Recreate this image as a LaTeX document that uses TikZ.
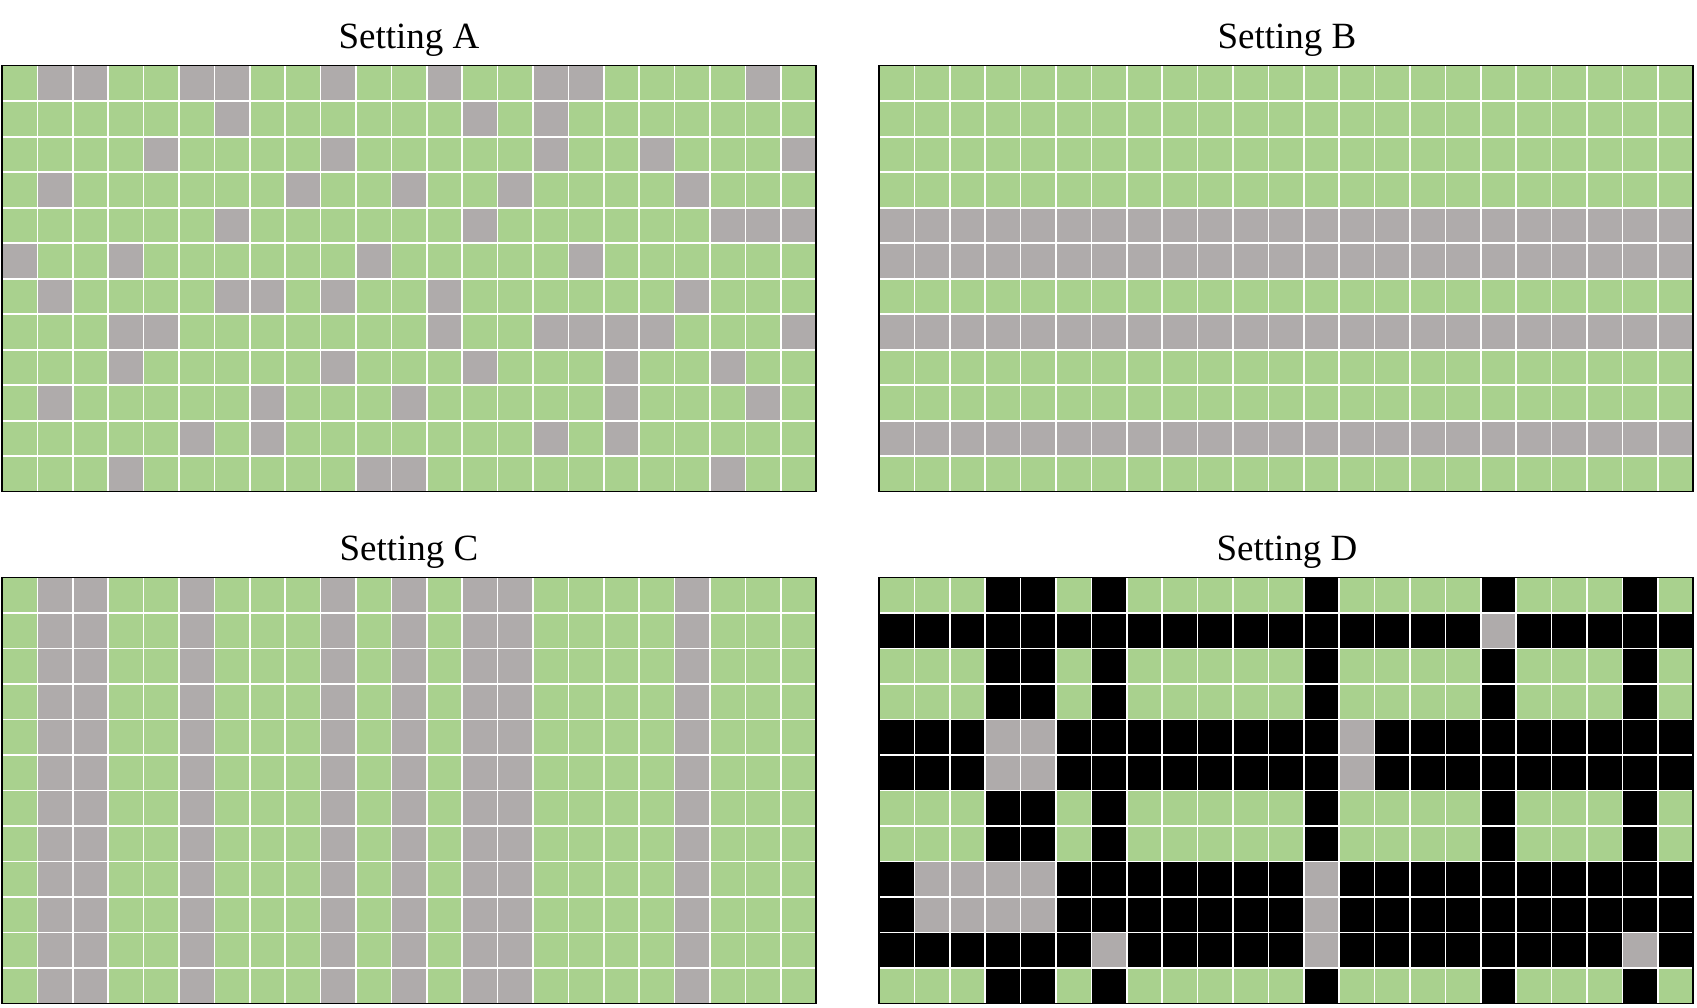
\documentclass[tikz,border=0pt]{standalone}
\usepackage{fontspec}
\setmainfont{Liberation Serif}
\definecolor{cgreen}{HTML}{A9D18E}
\definecolor{cgray}{HTML}{AFABAB}
\tikzset{
  cellunits/.style={x=17.7pt,y=-17.75pt},
  gridline/.style={white,line width=0.8pt},
  gridframe/.style={black,line width=0.75pt},
  titletext/.style={anchor=base,inner sep=0pt,font=\fontsize{18.5pt}{22pt}\selectfont}
}
\newcommand\gridlinesframe{%
  \foreach \i in {1,...,22} \draw[gridline] (\i,0) -- (\i,12);
  \foreach \j in {1,...,11} \draw[gridline] (0,\j) -- (23,\j);
  \draw[gridframe] (0,0) rectangle (23,12);
}
\begin{document}
\begin{tikzpicture}[x=0.5pt,y=-0.5pt]
\useasboundingbox (0,0) rectangle (1697,1007);

\node[titletext] (tA) at (409,48) {Setting A};
\node[titletext] (tB) at (1287,48) {Setting B};
\node[titletext] (tC) at (409,560) {Setting C};
\node[titletext] (tD) at (1287,560) {Setting D};

% Setting A
\begin{scope}[shift={(1pt,-32.85pt)},cellunits]
  \fill[cgreen] (0,0) rectangle (23,12);
  \foreach \r/\cols in {0/{1,2,5,6,9,12,15,16,21},1/{6,13,15},2/{4,9,15,18,22},
    3/{1,8,11,14,19},4/{6,13,20,21,22},5/{0,3,10,16},6/{1,6,7,9,12,19},
    7/{3,4,12,15,16,17,18,22},8/{3,9,13,17,20},9/{1,7,11,17,21},
    10/{5,7,15,17},11/{3,10,11,20}}
    \foreach \c in \cols \fill[cgray] (\c,\r) rectangle ++(1,1);
  \gridlinesframe
\end{scope}

% Setting B
\begin{scope}[shift={(439.5pt,-32.85pt)},cellunits]
  \fill[cgreen] (0,0) rectangle (23,12);
  \foreach \r in {4,5,7,10} \fill[cgray] (0,\r) rectangle (23,\r+1);
  \gridlinesframe
\end{scope}

% Setting C
\begin{scope}[shift={(1pt,-288.65pt)},cellunits]
  \fill[cgreen] (0,0) rectangle (23,12);
  \foreach \c in {1,2,5,9,11,13,14,19} \fill[cgray] (\c,0) rectangle (\c+1,12);
  \gridlinesframe
\end{scope}

% Setting D
\begin{scope}[shift={(439.5pt,-288.65pt)},cellunits]
  \fill[cgreen] (0,0) rectangle (23,12);
  \foreach \r in {1,4,5,8,9,10} \fill[black] (0,\r) rectangle (23,\r+1);
  \foreach \c in {3,4,6,12,17,21} \fill[black] (\c,0) rectangle (\c+1,12);
  \foreach \r/\cols in {1/{17},4/{3,4,13},5/{3,4,13},8/{1,2,3,4,12},
    9/{1,2,3,4,12},10/{6,12,21}}
    \foreach \c in \cols \fill[cgray] (\c,\r) rectangle ++(1,1);
  \gridlinesframe
\end{scope}
\end{tikzpicture}
\end{document}
